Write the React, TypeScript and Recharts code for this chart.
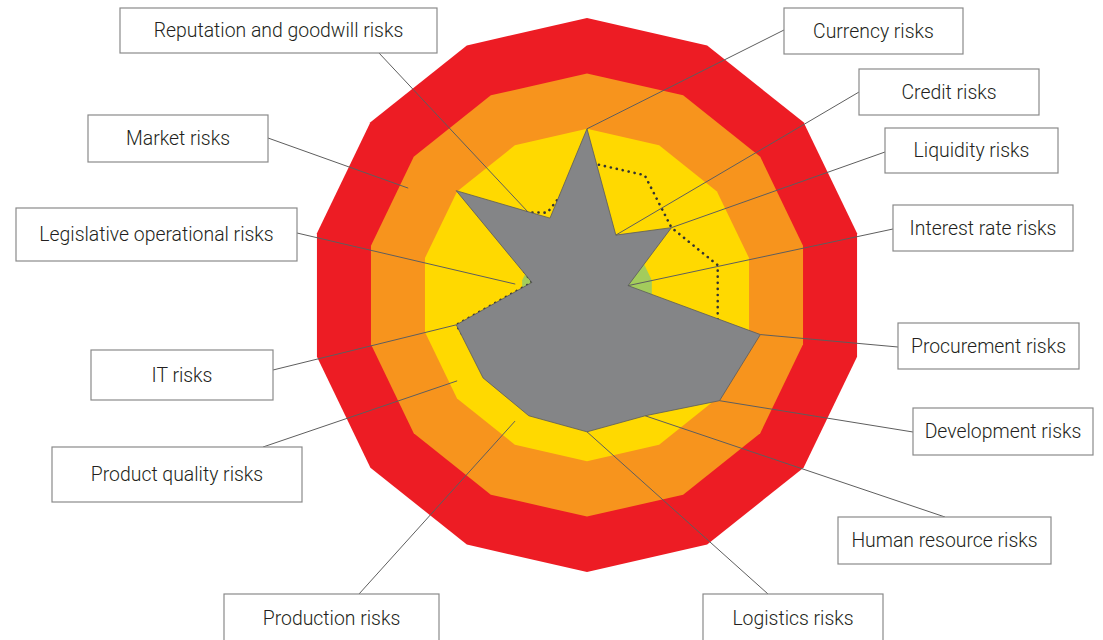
import React from 'react';
import { RadarChart, Radar, PolarAngleAxis, PolarRadiusAxis } from 'recharts';

// ---------- data ----------
const categories = [
  'Currency risks',
  'Credit risks',
  'Liquidity risks',
  'Interest rate risks',
  'Procurement risks',
  'Development risks',
  'Human resource risks',
  'Logistics risks',
  'Production risks',
  'Product quality risks',
  'IT risks',
  'Legislative operational risks',
  'Market risks',
  'Reputation and goodwill risks',
];

// current risk assessment (grey area)
const currentRisk = [3.0, 1.2, 1.95, 0.76, 3.21, 3.06, 2.42, 2.47, 2.42, 2.4, 2.42, 1.02, 3.02, 1.54];
// previous / target assessment (dotted line)
const targetRisk = [2.4, 2.4, 1.95, 2.42, 2.42, 2.4, 2.3, 2.3, 2.3, 2.3, 2.42, 1.02, 2.4, 1.65];

// zone limits (background bands)
const zoneCritical = 5;
const zoneHigh = 4;
const zoneMedium = 3;
const zoneLow = 1.2;

const chartData = categories.map((c, i) => ({
  category: c,
  critical: zoneCritical,
  high: zoneHigh,
  medium: zoneMedium,
  low: zoneLow,
  current: currentRisk[i],
  target: targetRisk[i],
}));

// ---------- layout (label boxes & leader line anchors) ----------
const CX = 587;
const CY = 295;
const OUTER = 277;

type Box = { x: number; y: number; w: number; h: number; ax: number; ay: number; endR: number | null; endDA: number };
const LABEL_BOXES: Box[] = [
  { x: 784, y: 8, w: 179, h: 46, ax: 784, ay: 30, endR: null, endDA: 0 },
  { x: 859, y: 69, w: 180, h: 46, ax: 859, ay: 92, endR: null, endDA: 0 },
  { x: 885, y: 128, w: 173, h: 45, ax: 885, ay: 152, endR: null, endDA: 0 },
  { x: 893, y: 205, w: 180, h: 46, ax: 893, ay: 229, endR: null, endDA: 0 },
  { x: 898, y: 323, w: 181, h: 46, ax: 898, ay: 347, endR: null, endDA: 0 },
  { x: 913, y: 408, w: 180, h: 47, ax: 913, ay: 432, endR: null, endDA: 0 },
  { x: 838, y: 517, w: 213, h: 47, ax: 945, ay: 517, endR: null, endDA: 0 },
  { x: 703, y: 594, w: 180, h: 48, ax: 768, ay: 594, endR: null, endDA: 0 },
  { x: 224, y: 594, w: 215, h: 48, ax: 359, ay: 594, endR: 2.62, endDA: 4.0 },
  { x: 52, y: 447, w: 250, h: 55, ax: 263, ay: 447, endR: 2.81, endDA: 5.1 },
  { x: 91, y: 350, w: 182, h: 50, ax: 273, ay: 370, endR: null, endDA: 0 },
  { x: 16, y: 208, w: 281, h: 53, ax: 297, ay: 233, endR: 1.31, endDA: -4.2 },
  { x: 88, y: 115, w: 180, h: 47, ax: 268, ay: 138, endR: 3.76, endDA: -7.7 },
  { x: 120, y: 8, w: 317, h: 45, ax: 379, ay: 53, endR: 1.84, endDA: -9.7 },
];

const renderLabel = (props: any) => {
  const { cx: px, cy: py, index } = props;
  const pt = props.payload || {};
  const ccx = typeof pt.cx === 'number' ? pt.cx : CX;
  const ccy = typeof pt.cy === 'number' ? pt.cy : CY;
  const value = currentRisk[index];
  const dx = px - ccx;
  const dy = py - ccy;
  const rPx = Math.hypot(dx, dy);
  const unit = value > 0 ? rPx / value : OUTER / zoneCritical;
  const axisAngle = Math.atan2(dx, -dy);
  const b = LABEL_BOXES[index];
  let ex = px;
  let ey = py;
  if (b.endR != null) {
    const a = axisAngle + (b.endDA * Math.PI) / 180;
    ex = ccx + b.endR * unit * Math.sin(a);
    ey = ccy - b.endR * unit * Math.cos(a);
  }
  return (
    <g key={`lbl-${index}`}>
      <line x1={b.ax} y1={b.ay} x2={ex} y2={ey} stroke="#5e5e5e" strokeWidth={1} />
      <rect x={b.x} y={b.y} width={b.w} height={b.h} fill="#ffffff" stroke="#8a8a8a" strokeWidth={1.2} />
      <text
        x={b.x + b.w / 2}
        y={b.y + b.h / 2 + 6.8}
        textAnchor="middle"
        fontFamily="Roboto, 'Liberation Sans', sans-serif"
        fontWeight={300}
        fontSize={19.4}
        fill="#231f20"
      >
        {categories[index]}
      </text>
    </g>
  );
};

export default function App() {
  return (
    <div style={{ position: 'absolute', left: 0, top: 0, width: 1103, height: 640, background: '#ffffff' }}>
      <RadarChart
        width={1103}
        height={640}
        cx={CX}
        cy={CY}
        outerRadius={OUTER}
        data={chartData}
        margin={{ top: 0, right: 0, bottom: 0, left: 0 }}
      >
        <PolarAngleAxis dataKey="category" tick={false} axisLine={false} tickLine={false} />
        <PolarRadiusAxis domain={[0, 5]} tick={false} axisLine={false} tickCount={6} />
        <Radar dataKey="critical" fill="#ed1c24" fillOpacity={1} stroke="none" dot={false} isAnimationActive={false} />
        <Radar dataKey="high" fill="#f7941d" fillOpacity={1} stroke="none" dot={false} isAnimationActive={false} />
        <Radar dataKey="medium" fill="#ffd900" fillOpacity={1} stroke="none" dot={false} isAnimationActive={false} />
        <Radar dataKey="low" fill="#a3cc5c" fillOpacity={1} stroke="none" dot={false} isAnimationActive={false} />
        <Radar
          dataKey="target"
          fill="none"
          fillOpacity={0}
          stroke="#333333"
          strokeWidth={2.6}
          strokeDasharray="0.1 6"
          strokeLinecap="round"
          dot={false}
          isAnimationActive={false}
        />
        <Radar
          dataKey="current"
          fill="#848587"
          fillOpacity={1}
          stroke="#5a5a5a"
          strokeWidth={0.8}
          dot={renderLabel}
          isAnimationActive={false}
        />
      </RadarChart>
    </div>
  );
}
